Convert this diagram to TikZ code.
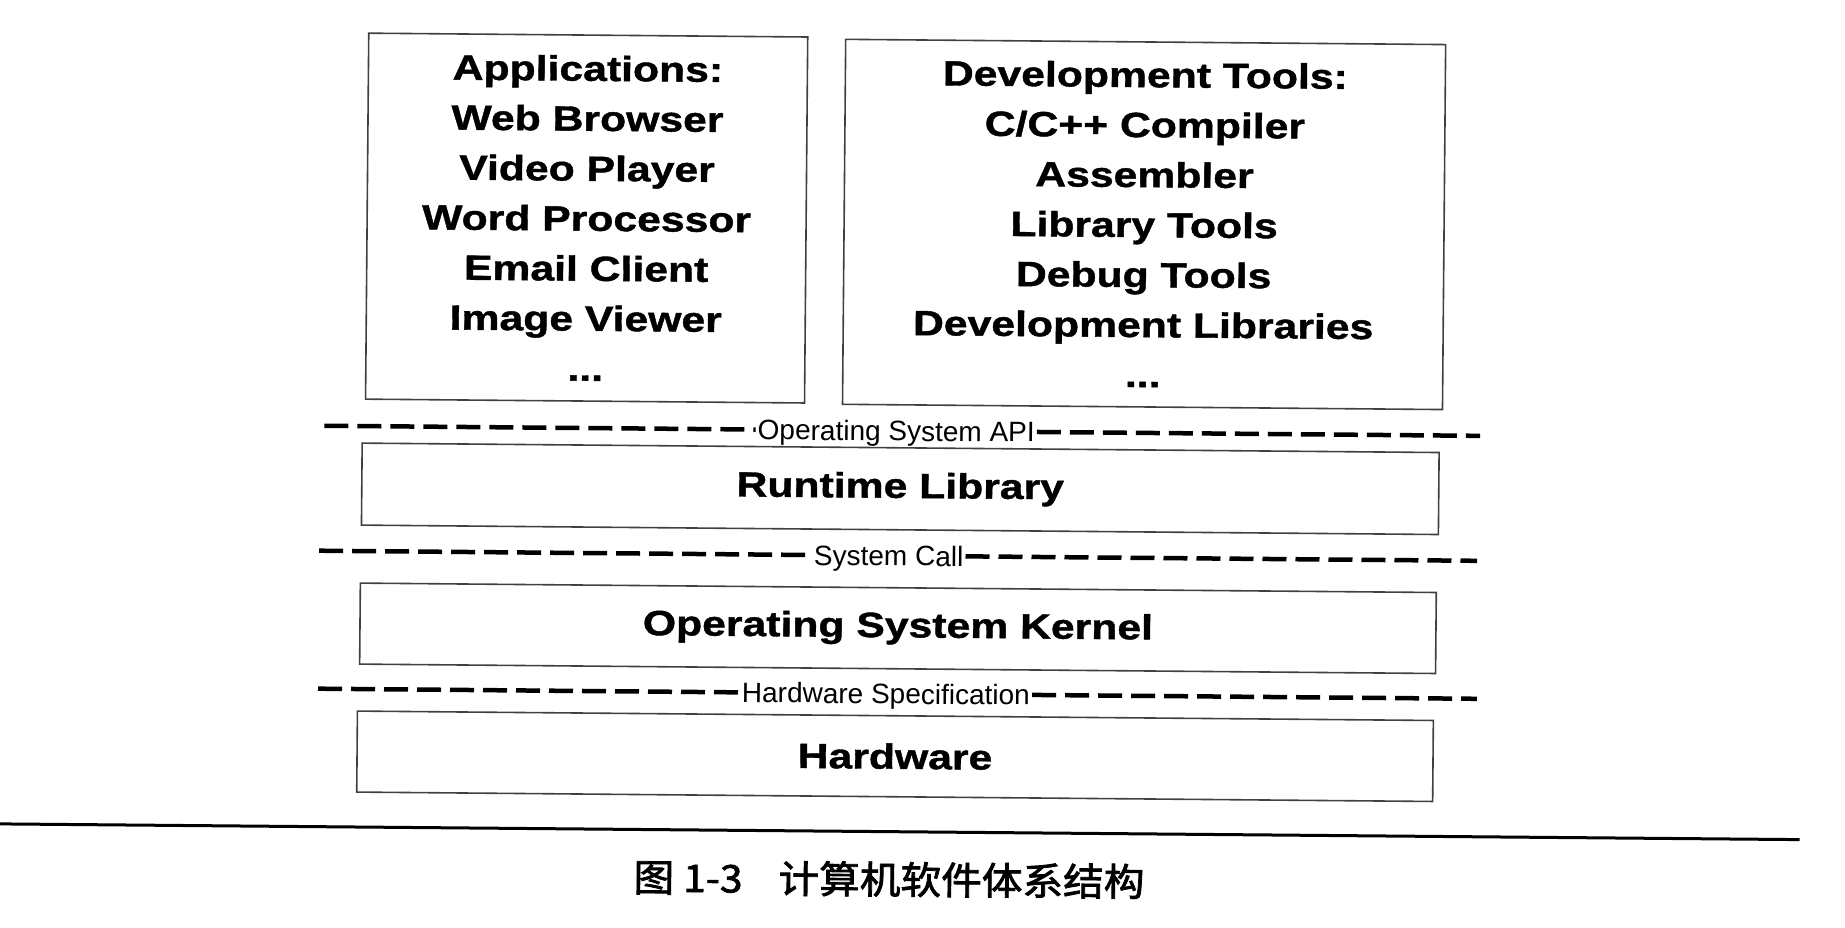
\documentclass[tikz,border=0pt]{standalone}
\usepackage{fontspec}
\setmainfont{Liberation Sans}
\newfontfamily\layerfont[FakeStretch=1.22,FakeBold=1.2]{Liberation Sans Bold}
\newfontfamily\ifacefont{Liberation Sans}
\newfontfamily\captionfont[FakeStretch=1.07,FakeBold=2]{Noto Sans CJK SC}
\begin{document}
\begin{tikzpicture}[x=1pt,y=-1pt,
  layer/.style={draw=black!75, line width=1.6pt, inner sep=0pt, align=center,
    font=\layerfont\fontsize{35}{50}\selectfont},
  iface/.style={font=\ifacefont\fontsize{28}{30}\selectfont, inner xsep=2pt,
    inner ysep=0pt, text height=20pt, text depth=0pt},
  boundary/.style={line width=4.5pt, dash pattern=on 24pt off 9pt},
  rule/.style={line width=3pt},
  captiontext/.style={font=\captionfont\fontsize{38}{40}\selectfont, inner sep=0pt}
]
\useasboundingbox (0,0) rectangle (1845,927);
\begin{scope}[rotate around={-0.5:(922,463)}, transform shape]
  % user-level programs
  \node[layer, minimum width=439pt, minimum height=366pt] (apps) at (584.5,221)
    {Applications:\\Web Browser\\Video Player\\Word Processor\\Email Client\\Image Viewer\\...};
  \node[layer, minimum width=600pt, minimum height=365pt] (devtools) at (1142,222.5)
    {Development Tools:\\C/C++ Compiler\\Assembler\\Library Tools\\Debug Tools\\Development Libraries\\...};

  % operating system API boundary
  \coordinate (apiL) at (324,431);
  \coordinate (apiR) at (1480,431);
  \node[iface] (api) at (896,431) {Operating System API};
  \draw[boundary] (apiL) -- (api.west);
  \draw[boundary] (api.east) -- (apiR);

  % runtime library layer
  \node[layer, minimum width=1077pt, minimum height=82pt] (rtl) at (900.5,489) {Runtime Library};

  % system call boundary
  \coordinate (callL) at (320,556);
  \coordinate (callR) at (1478,556);
  \node[iface] (call) at (889.5,556) {System Call};
  \draw[boundary] (callL) -- (call.west);
  \draw[boundary] (call.east) -- (callR);

  % kernel layer
  \node[layer, minimum width=1076pt, minimum height=81pt] (kernel) at (899.4,628.5) {Operating System Kernel};

  % hardware specification boundary
  \coordinate (hwL) at (320,694);
  \coordinate (hwR) at (1479,694);
  \node[iface] (hwspec) at (888,694) {Hardware Specification};
  \draw[boundary] (hwL) -- (hwspec.west);
  \draw[boundary] (hwspec.east) -- (hwR);

  % hardware layer
  \node[layer, minimum width=1076pt, minimum height=81pt] (hw) at (897.6,756.5) {Hardware};

  % page rule and figure caption
  \coordinate (ruleL) at (-20,832);
  \coordinate (ruleR) at (1803,832);
  \draw[rule] (ruleL) -- (ruleR);
  \node[captiontext, anchor=base west] (caption) at (637,894)
    {图 1-3\hspace{36pt}计算机软件体系结构};
\end{scope}
\end{tikzpicture}
\end{document}
